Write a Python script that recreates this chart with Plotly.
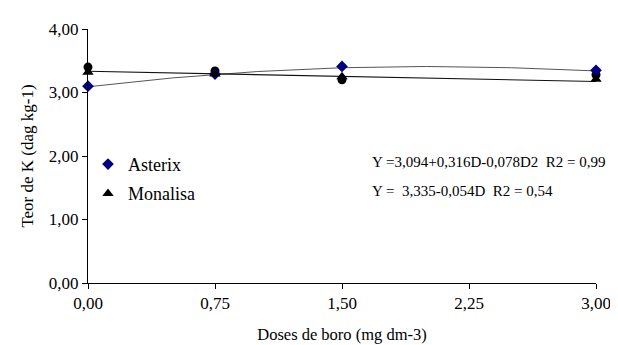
import plotly.graph_objects as go

doses = [0, 0.75, 1.5, 3.0]
tick_x = [0, 0.75, 1.5, 2.25, 3.0]
tick_x_text = ["0,00", "0,75", "1,50", "2,25", "3,00"]
tick_y = [0, 1, 2, 3, 4]
tick_y_text = ["0,00", "1,00", "2,00", "3,00", "4,00"]

asterix = [3.10, 3.29, 3.41, 3.35]
monalisa = [3.32, 3.29, 3.25, 3.21]
extra_points = [3.40, 3.34, 3.20, 3.28]

asterix_trend_x = [0, 0.25, 0.5, 0.75, 1.0, 1.5, 2.0, 2.5, 3.0]
asterix_trend_y = [3.09, 3.16, 3.23, 3.28, 3.33, 3.39, 3.41, 3.39, 3.34]
monalisa_trend_x = [0, 3.0]
monalisa_trend_y = [3.335, 3.173]

NB = "\u00a0"
eq_asterix = "Y =3,094+0,316D-0,078D2" + NB + NB + "R2 = 0,99"
eq_monalisa = "Y =" + NB + NB + "3,335-0,054D" + NB + NB + "R2 = 0,54"

FONT = "Times New Roman"
FS = 17

fig = go.Figure()
fig.add_trace(go.Scatter(x=asterix_trend_x, y=asterix_trend_y, mode="lines",
                         line=dict(color="#555555", width=1), showlegend=False,
                         hoverinfo="skip", cliponaxis=False))
fig.add_trace(go.Scatter(x=monalisa_trend_x, y=monalisa_trend_y, mode="lines",
                         line=dict(color="#111111", width=1.2), showlegend=False,
                         hoverinfo="skip", cliponaxis=False))
fig.add_trace(go.Scatter(x=doses, y=extra_points, mode="markers",
                         marker=dict(symbol="circle", size=9, color="black"),
                         showlegend=False, cliponaxis=False))
fig.add_trace(go.Scatter(x=doses, y=asterix, mode="markers", name="Asterix",
                         legendgroup="a",
                         marker=dict(symbol="diamond", size=9, color="#000080"),
                         cliponaxis=False))
fig.add_trace(go.Scatter(x=doses, y=monalisa, mode="markers", name="Monalisa",
                         legendgroup="m",
                         marker=dict(symbol="triangle-up", size=10, color="black"),
                         cliponaxis=False))

fig.update_layout(
    width=618, height=345,
    margin=dict(l=80, r=30, t=16, b=68),
    paper_bgcolor="white", plot_bgcolor="white",
    font=dict(family=FONT, size=FS, color="black"),
    showlegend=True,
    legend=dict(x=0.0, y=0.54, xanchor="left", yanchor="top",
                traceorder="grouped", bgcolor="rgba(0,0,0,0)",
                font=dict(family=FONT, size=18), itemwidth=30,
                tracegroupgap=3),
    xaxis=dict(range=[0, 3], tickvals=tick_x, ticktext=tick_x_text,
               showgrid=False, zeroline=False, showline=True, linecolor="black",
               linewidth=1, ticks="outside", ticklen=5, tickcolor="black",
               title=dict(text="Doses de boro (mg dm-3)", standoff=16,
                          font=dict(family=FONT, size=16.5))),
    yaxis=dict(range=[0, 4], tickvals=tick_y, ticktext=tick_y_text,
               showgrid=False, zeroline=False, showline=True, linecolor="black",
               linewidth=1, ticks="outside", ticklen=5, tickcolor="black",
               title=dict(text="Teor de K (dag kg-1)", standoff=10,
                          font=dict(family=FONT, size=FS))),
    annotations=[
        dict(x=0.555, y=0.475, xref="paper", yref="paper", text=eq_asterix,
             showarrow=False, xanchor="left", yanchor="middle",
             font=dict(family=FONT, size=15)),
        dict(x=0.555, y=0.364, xref="paper", yref="paper", text=eq_monalisa,
             showarrow=False, xanchor="left", yanchor="middle",
             font=dict(family=FONT, size=15)),
    ],
)

fig.write_html("out.html")
